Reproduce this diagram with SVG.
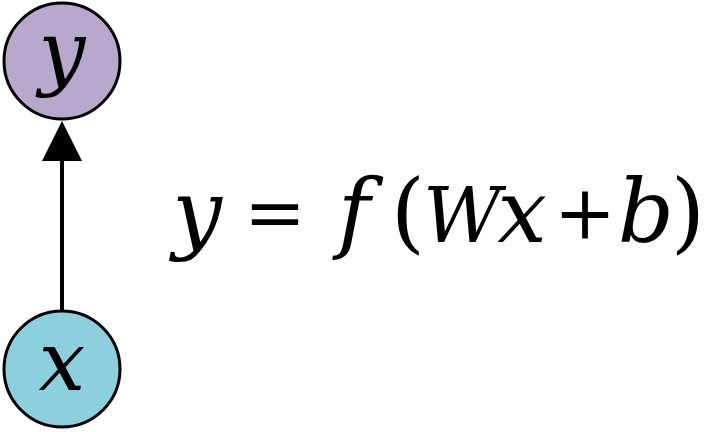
<svg xmlns="http://www.w3.org/2000/svg" width="720" height="432" viewBox="0 0 720 432">
<style>
.node{stroke:#000;stroke-width:3}
</style>
<rect width="720" height="432" fill="#fff"/>
<g id="connectors">
<line x1="62" y1="311" x2="62" y2="160" stroke="#000" stroke-width="4"/>
<path d="M62,121 L82,161 L42,161 z" fill="#000"/>
</g>
<g id="node-y">
<circle class="node" cx="62" cy="61" r="58" fill="#b8a8cb"/>
<text x="62" y="80" text-anchor="middle" font-family="DejaVu Serif" font-style="italic" font-size="83">y</text>
</g>
<g id="node-x">
<circle class="node" cx="62" cy="369" r="58" fill="#8ecfdd"/>
<text x="62" y="390" text-anchor="middle" font-family="DejaVu Serif" font-style="italic" font-size="83">x</text>
</g>
<g id="equation" font-family="DejaVu Serif" font-size="88" text-anchor="middle">
<text x="197" y="242" font-style="italic">y</text>
<text x="275" y="238" font-size="74">=</text>
<text x="354" y="242" font-style="italic">f</text>
<text x="408" y="242">(</text>
<text x="462" y="242" font-style="italic" font-size="76">W</text>
<text x="522" y="242" font-style="italic">x</text>
<text x="585" y="239" font-size="74">+</text>
<text x="646" y="242" font-style="italic">b</text>
<text x="688" y="242">)</text>
</g>
</svg>
